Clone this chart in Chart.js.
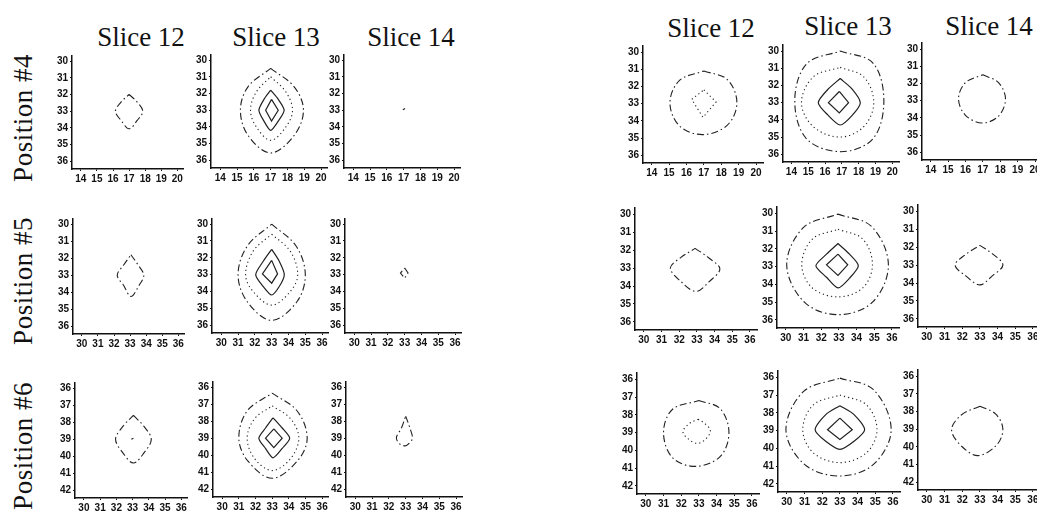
<!DOCTYPE html>
<html>
<head>
<meta charset="utf-8">
<script src="https://cdn.jsdelivr.net/npm/chart.js@4.4.0/dist/chart.umd.min.js"></script>
<style>
  html, body { margin: 0; padding: 0; width: 1037px; height: 513px; overflow: hidden; background: #fff; }
  canvas { position: absolute; }
  .ttl { position: absolute; font-family: "Liberation Serif", serif; font-size: 27px; line-height: 30px;
         color: #111; white-space: nowrap; text-align: center; width: 160px; }
  .rowlab { position: absolute; font-family: "Liberation Serif", serif; font-size: 27px; line-height: 30px;
            color: #111; white-space: nowrap; text-align: center; width: 200px; height: 30px;
            letter-spacing: 0.5px; transform: rotate(-90deg); }
</style>
</head>
<body>
<script>
const sliceNames = ['Slice 12', 'Slice 13', 'Slice 14'];
const positionNames = ['Position #4', 'Position #5', 'Position #6'];

const ticks14 = [14, 15, 16, 17, 18, 19, 20];
const ticks30 = [30, 31, 32, 33, 34, 35, 36];
const ticks36 = [36, 37, 38, 39, 40, 41, 42];
// per row: [x ticks, y ticks]
const rowTicks = [[ticks14, ticks30], [ticks30, ticks30], [ticks30, ticks36]];

// contours. low = outer level, mid, high, peak = inner
const left4 = [
  { low: [[17,32.0],[17.5,32.45],[17.85,33.0],[17.5,33.55],[17,34.05],[16.5,33.55],[16.15,33.0],[16.5,32.45],[17,32.0]] },
  { low: [[17,30.5],[18.4,31.6],[18.95,33.0],[18.4,34.5],[17,35.55],[15.65,34.5],[15.2,33.0],[15.65,31.6],[17,30.5]],
    mid: [[17,31.0],[17.9,31.9],[18.3,33.0],[17.9,34.0],[17,34.8],[16.15,34.0],[15.8,33.0],[16.15,31.9],[17,31.0]],
    high: [[17,31.8],[17.45,32.35],[17.8,33.0],[17.45,33.65],[17,34.2],[16.6,33.65],[16.3,33.0],[16.6,32.35],[17,31.8]],
    peak: [[17.05,32.35],[17.45,33.0],[17.05,33.65],[16.7,33.0],[17.05,32.35]] },
  { low: [[16.95,32.97],[17.08,32.9]] }
];
const left5 = [
  { low: [[33.05,31.8],[33.5,32.4],[33.85,33.0],[33.55,33.6],[33.05,34.25],[32.6,33.6],[32.2,33.0],[32.6,32.4],[33.05,31.8]] },
  { low: [[33,30.0],[34.45,31.3],[35.0,33.0],[34.5,34.6],[33,35.7],[31.55,34.6],[31.0,33.0],[31.55,31.3],[33,30.0]],
    mid: [[33,30.6],[34.1,31.6],[34.55,33.0],[34.1,34.0],[33,34.8],[31.9,34.0],[31.45,33.0],[31.9,31.6],[33,30.6]],
    high: [[33,31.5],[33.45,32.2],[33.75,33.0],[33.45,33.7],[33,34.2],[32.5,33.7],[32.05,33.0],[32.5,32.2],[33,31.5]],
    peak: [[33,32.15],[33.35,32.95],[33,33.5],[32.45,32.95],[33,32.15]] },
  { low: [[33.0,32.6],[33.2,32.9],[33.0,33.2],[32.75,32.9],[33.0,32.6]] }
];
const left6 = [
  { low: [[33.05,37.6],[33.7,38.25],[34.15,39.0],[33.7,39.8],[33.05,40.4],[32.4,39.8],[31.95,39.0],[32.4,38.25],[33.05,37.6]],
    mid: [[33,38.93],[33.05,39.0],[33,39.07],[32.95,39.0],[33,38.93]] },
  { low: [[33,36.35],[34.5,37.4],[35.1,39.0],[34.5,40.35],[33,41.35],[31.55,40.35],[31.0,39.0],[31.5,37.4],[33,36.35]],
    mid: [[33,37.1],[34.1,37.85],[34.6,39.0],[34.1,40.2],[33,40.9],[31.95,40.2],[31.5,39.0],[31.95,37.85],[33,37.1]],
    high: [[33.05,37.8],[33.6,38.4],[34.05,39.0],[33.6,39.6],[33.05,40.15],[32.6,39.6],[32.2,39.0],[32.6,38.4],[33.05,37.8]],
    peak: [[33.1,38.45],[33.6,39.0],[33.1,39.55],[32.6,39.0],[33.1,38.45]] },
  { low: [[33.0,37.7],[33.25,38.4],[33.4,39.0],[33.15,39.35],[32.95,39.45],[32.6,39.3],[32.45,38.95],[32.75,38.4],[33.0,37.7]] }
];
const right4 = [
  { low: [[17,31.1],[18.35,31.6],[18.9,32.95],[18.35,34.25],[16.95,34.8],[15.6,34.3],[15.05,32.95],[15.6,31.65],[17,31.1]],
    mid: [[17,32.2],[17.7,32.9],[16.95,33.8],[16.3,32.75],[17,32.2]] },
  { low: [[16.9,30.0],[18.85,30.7],[19.5,32.9],[18.85,35.1],[16.95,35.85],[14.9,35.1],[14.2,32.9],[14.9,30.75],[16.9,30.0]],
    mid: [[16.9,30.95],[18.3,31.5],[18.9,33.0],[18.3,34.4],[16.9,35.0],[15.3,34.4],[14.6,33.0],[15.3,31.5],[16.9,30.95]],
    high: [[16.9,31.6],[17.6,32.2],[18.1,33.0],[17.6,33.75],[16.9,34.3],[16.15,33.7],[15.6,33.0],[16.15,32.25],[16.9,31.6]],
    peak: [[16.85,32.35],[17.4,33.0],[16.85,33.6],[16.2,33.0],[16.85,32.35]] },
  { low: [[17,31.5],[17.9,31.95],[18.3,32.9],[17.9,33.9],[16.95,34.3],[16.0,33.85],[15.6,32.9],[16.0,31.95],[17,31.5]] }
];
const right5 = [
  { low: [[32.9,31.9],[33.7,32.45],[34.3,33.05],[33.7,33.75],[32.95,34.3],[32.1,33.75],[31.5,33.0],[32.1,32.4],[32.9,31.9]] },
  { low: [[32.95,30.05],[34.85,30.75],[35.8,32.9],[34.9,35.0],[32.95,35.7],[31.05,35.0],[30.05,32.9],[31.0,30.8],[32.95,30.05]],
    mid: [[32.95,30.9],[34.35,31.45],[34.9,32.9],[34.35,34.2],[32.95,34.7],[31.5,34.2],[30.9,32.9],[31.5,31.45],[32.95,30.9]],
    high: [[32.95,31.7],[33.6,32.3],[34.1,32.95],[33.6,33.65],[32.95,34.2],[32.3,33.6],[31.7,32.95],[32.3,32.3],[32.95,31.7]],
    peak: [[32.95,32.3],[33.5,32.9],[32.95,33.5],[32.3,32.9],[32.95,32.3]] },
  { low: [[33,31.9],[33.75,32.4],[34.3,33.0],[33.7,33.6],[33,34.1],[32.2,33.6],[31.6,33.0],[32.2,32.4],[33,31.9]] }
];
const right6 = [
  { low: [[33.0,37.2],[34.2,37.65],[34.7,39.0],[34.2,40.35],[32.8,40.9],[31.5,40.4],[31.0,39.0],[31.5,37.7],[33.0,37.2]],
    mid: [[32.95,38.25],[33.35,38.5],[33.65,38.9],[33.4,39.35],[32.95,39.6],[32.45,39.4],[32.1,38.95],[32.45,38.5],[32.95,38.25]] },
  { low: [[33,36.05],[34.9,36.7],[35.9,38.95],[34.9,40.9],[33,41.55],[31.0,40.9],[29.95,38.95],[30.95,36.8],[33,36.05]],
    mid: [[33,37.0],[34.5,37.55],[35.1,38.95],[34.5,40.25],[33,40.8],[31.5,40.25],[30.9,38.95],[31.5,37.55],[33,37.0]],
    high: [[33,37.6],[33.8,38.1],[34.4,38.95],[33.8,39.6],[33,40.05],[32.2,39.6],[31.6,38.95],[32.2,38.1],[33,37.6]],
    peak: [[33,38.3],[33.7,38.95],[33,39.5],[32.3,38.95],[33,38.3]] },
  { low: [[33,37.7],[33.9,38.15],[34.3,39.0],[33.95,39.9],[32.9,40.5],[32.0,40.0],[31.4,39.05],[31.95,38.2],[33,37.7]] }
];

const leftRows = [left4, left5, left6];
const rightRows = [right4, right5, right6];

// layout: chart-area boxes [left, top, width, height] in page pixels
const leftBoxes = [
  [[72, 56, 111, 113], [211, 55, 116, 113], [344, 55, 116, 113]],
  [[73, 219, 111, 115], [212, 219, 116, 114], [345, 219, 116, 114]],
  [[75, 383, 112, 115], [213, 382, 115, 115], [346, 382, 116, 115]]
];
const rightBoxes = [
  [[643, 46, 120, 117], [783, 45, 116, 117], [922, 43, 120, 117]],
  [[635, 208, 122, 122], [777, 207, 122, 121], [918, 205, 122, 122]],
  [[637, 373, 122, 121], [778, 371, 122, 121], [918, 370, 122, 120]]
];
const leftTitles = [[141, 45], [276, 45], [411, 45]];
const rightTitles = [[711, 36], [848, 34], [989, 34]];
const rowLabelPos = [[23, 118], [23, 281], [23, 446]];

const ink = '#202020';
const levels = ['low', 'mid', 'high', 'peak'];
const lineStyle = {
  low:  { dash: [7, 3, 1.5, 3], width: 1.1, tension: 0.35 },
  mid:  { dash: [1.2, 3], width: 1.1, tension: 0.35 },
  high: { dash: [], width: 1.2, tension: 0.25 },
  peak: { dash: [], width: 1.2, tension: 0 }
};

const YW = 28, XH = 20, PT = 10, PR = 12;

function makePanel(box, contours, xt, yt, xPad, yPad) {
  const [bx, by, bw, bh] = box;
  const cv = document.createElement('canvas');
  cv.width = bw + YW + PR;
  cv.height = bh + PT + XH;
  cv.style.left = (bx - YW) + 'px';
  cv.style.top = (by - PT) + 'px';
  document.body.appendChild(cv);

  const datasets = levels.filter(l => contours[l]).map(l => ({
    data: contours[l].map(p => ({ x: p[0], y: p[1] })),
    showLine: true,
    fill: false,
    borderColor: ink,
    borderWidth: lineStyle[l].width,
    borderDash: lineStyle[l].dash,
    tension: contours[l].length > 5 ? lineStyle[l].tension : 0,
    pointRadius: 0
  }));

  const tickFont = { family: 'Liberation Sans', size: 10, weight: 'bold' };
  const axis = (vals, lo, hi, isX) => ({
    type: 'linear',
    reverse: !isX,
    min: vals[0] - lo,
    max: vals[vals.length - 1] + hi,
    afterBuildTicks: s => { s.ticks = vals.map(v => ({ value: v })); },
    afterFit: s => { if (isX) s.height = XH; else s.width = YW; },
    grid: { display: true, drawOnChartArea: false, drawTicks: true, tickLength: 2, color: '#111', lineWidth: 1 },
    border: { display: true, color: '#111', width: 1.5 },
    ticks: { font: tickFont, color: '#111', padding: 2, autoSkip: false, maxRotation: 0 }
  });

  new Chart(cv, {
    type: 'scatter',
    data: { datasets },
    options: {
      responsive: false,
      animation: false,
      events: [],
      layout: { padding: { top: PT, right: PR, left: 0, bottom: 0 } },
      plugins: { legend: { display: false }, tooltip: { enabled: false } },
      scales: {
        x: axis(xt, xPad[0], xPad[1], true),
        y: axis(yt, yPad[0], yPad[1], false)
      }
    }
  });
}

function addText(cls, txt) {
  const d = document.createElement('div');
  d.className = cls;
  d.textContent = txt;
  document.body.appendChild(d);
  return d;
}

// titles (baseline y given)
[leftTitles, rightTitles].forEach(arr => {
  arr.forEach((p, i) => {
    const d = addText('ttl', sliceNames[i]);
    d.style.left = (p[0] - 80) + 'px';
    d.style.top = (p[1] - 23) + 'px';
  });
});

positionNames.forEach((name, i) => {
  const d = addText('rowlab', name);
  d.style.left = (rowLabelPos[i][0] - 100) + 'px';
  d.style.top = (rowLabelPos[i][1] - 15) + 'px';
});

for (let r = 0; r < 3; r++) {
  const [xt, yt] = rowTicks[r];
  for (let c = 0; c < 3; c++) {
    makePanel(leftBoxes[r][c], leftRows[r][c], xt, yt, [0.55, 0.35], [0.3, 0.45]);
    makePanel(rightBoxes[r][c], rightRows[r][c], xt, yt, [0.5, 0.4], [0.35, 0.45]);
  }
}
</script>
</body>
</html>
